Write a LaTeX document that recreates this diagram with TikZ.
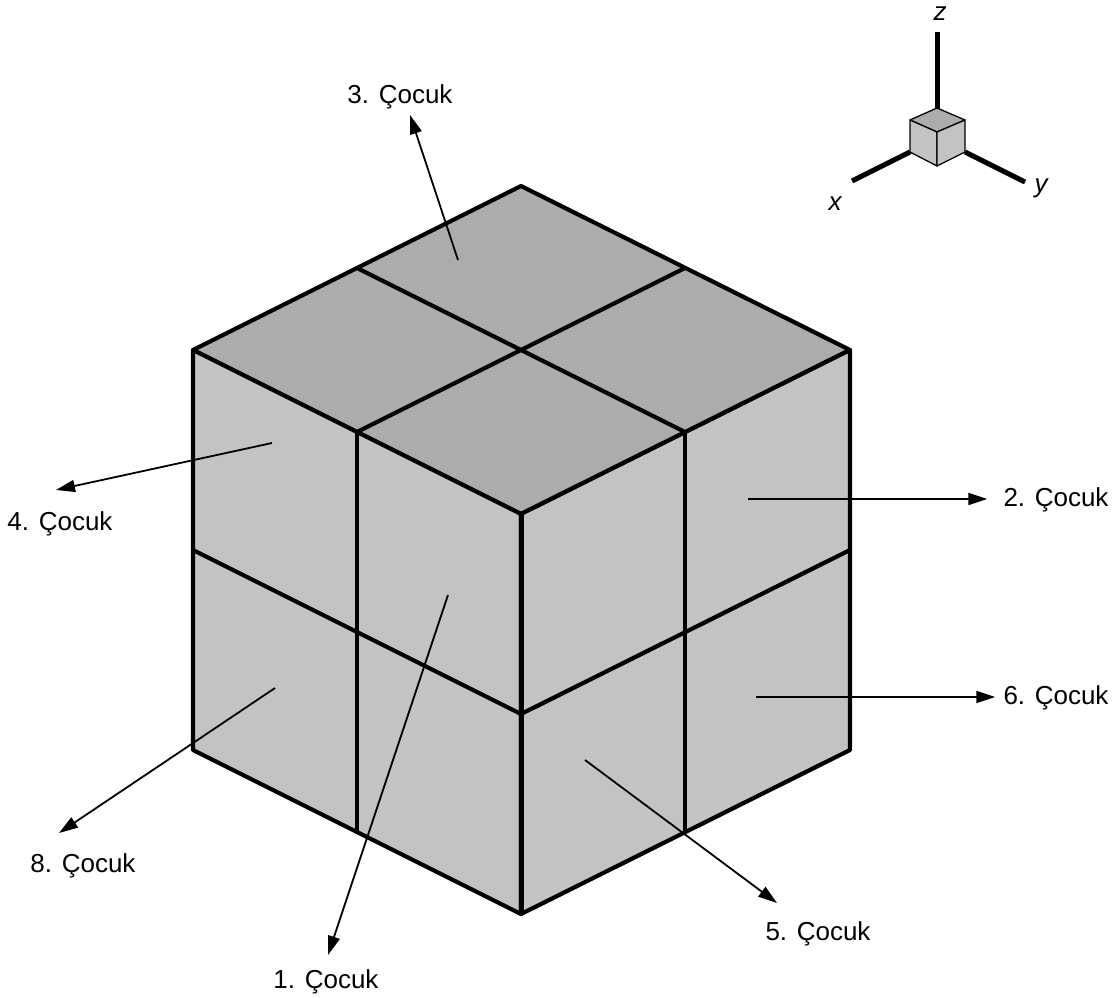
\documentclass[tikz,border=0pt]{standalone}
\usepackage{fontspec}
\setmainfont{Liberation Sans}
\usetikzlibrary{arrows.meta}
\definecolor{topgray}{HTML}{ACACAC}
\definecolor{sidegray}{HTML}{C3C3C3}
\tikzset{
  edge/.style={line width=4.2pt,line join=round},
  face/.style={fill=sidegray,draw=black,line width=4.2pt,line join=round},
  topface/.style={face,fill=topgray},
  pointer/.style={line width=1.8pt,-{Triangle[length=19pt,width=12pt]}},
  child/.style={inner sep=0pt,font=\fontsize{26}{30}\selectfont},
  axis/.style={line width=5pt},
  axislabel/.style={inner sep=0pt,font=\fontsize{26}{30}\selectfont\itshape},
  minicube/.style={draw=black,line width=1.3pt,line join=round}
}
\begin{document}
\begin{tikzpicture}[x=1pt,y=-1pt]
  \useasboundingbox (0,0) rectangle (1120,998);
  % faces
  \draw[topface] (521,186) -- (850,350) -- (521,514) -- (193,350) -- cycle;
  \draw[face] (193,350) -- (521,514) -- (521,914) -- (193,750) -- cycle;
  \draw[face] (850,350) -- (521,514) -- (521,914) -- (850,750) -- cycle;
  % split lines
  \draw[edge] (357,268) -- (685,432);
  \draw[edge] (685,268) -- (357,432);
  \draw[edge,line width=3.6pt] (685,432) -- (685,832);
  \draw[edge,line width=3.6pt] (357,432) -- (357,832);
  \draw[edge] (193,550) -- (521,714) -- (850,550);
  \draw[edge,line width=5pt] (521,514) -- (521,914);
  % labels
  \node[child] (n1) at (326,982) {1. Çocuk};
  \node[child] (n2) at (1056,500) {2. Çocuk};
  \node[child] (n3) at (400,97)  {3. Çocuk};
  \node[child] (n4) at (60,524)  {4. Çocuk};
  \node[child] (n5) at (818,934) {5. Çocuk};
  \node[child] (n6) at (1056,698) {6. Çocuk};
  \node[child] (n8) at (83,866)  {8. Çocuk};
  % pointer ends
  \coordinate (c1) at (448,595);
  \coordinate (t1) at (328,955);
  \coordinate (c2) at (748,499);
  \coordinate (c3) at (458,260);
  \coordinate (t3) at (410,115);
  \coordinate (c4) at (272,443);
  \coordinate (t4) at (56,490);
  \coordinate (c5) at (585,760);
  \coordinate (t5) at (777,903);
  \coordinate (c6) at (756,697);
  \coordinate (c8) at (275,688);
  \coordinate (t8) at (59,833);
  % pointers
  \draw[pointer] (c1) -- (t1);
  \draw[pointer,shorten >=16pt] (c2) -- (c2 -| n2.west);
  \draw[pointer] (c3) -- (t3);
  \draw[pointer] (c4) -- (t4);
  \draw[pointer] (c5) -- (t5);
  \draw[pointer,shorten >=8pt] (c6) -- (c6 -| n6.west);
  \draw[pointer] (c8) -- (t8);
  % axes
  \draw[axis] (937,110) -- (937,32);
  \draw[axis] (910,152) -- (852,181);
  \draw[axis] (965,152) -- (1025,182);
  \draw[minicube,fill=topgray] (937,108) -- (965,120) -- (937,132) -- (910,120) -- cycle;
  \draw[minicube,fill=sidegray] (910,120) -- (937,132) -- (937,166) -- (910,152) -- cycle;
  \draw[minicube,fill=sidegray] (965,120) -- (937,132) -- (937,166) -- (965,152) -- cycle;
  \node[axislabel] (z) at (940,14) {z};
  \node[axislabel] (x) at (835,204) {x};
  \node[axislabel] (y) at (1041,188) {y};
\end{tikzpicture}
\end{document}
